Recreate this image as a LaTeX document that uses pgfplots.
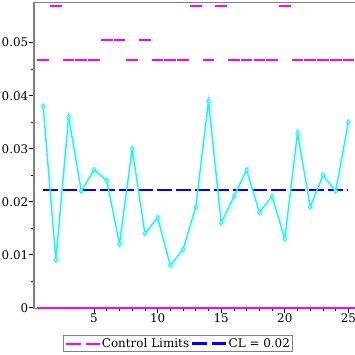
\documentclass[border=0pt]{standalone}
\usepackage{fontspec}
\setmainfont{DejaVu Serif}
\usepackage{pgfplots}
\pgfplotsset{compat=1.18}
\definecolor{axgray}{RGB}{128,128,128}
\definecolor{mag}{RGB}{255,0,255}
\definecolor{cy}{RGB}{0,255,255}
\definecolor{bl}{RGB}{0,0,255}
\begin{document}
\begin{tikzpicture}
\begin{axis}[
  at={(34bp,46.7bp)}, anchor=south west,
  scale only axis, width=322bp, height=305.6bp,
  xmin=0.28, xmax=25.6, ymin=-0.0001, ymax=0.05753,
  axis line style={axgray, line width=1.3bp},
  tick style={black, line width=0.6bp},
  tick align=outside, tick pos=left,
  xtick={5,10,15,20,25}, minor x tick num=4,
  ytick={0,0.01,0.02,0.03,0.04,0.05}, minor y tick num=1,
  major tick length=4.5bp, minor tick length=2.5bp,
  scaled y ticks=false,
  /pgf/number format/assume math mode=true,
  ticklabel style={font=\fontsize{12}{14}\selectfont},
  yticklabel style={/pgf/number format/fixed, /pgf/number format/precision=2, inner sep=1bp},
  xticklabel style={inner sep=1bp},
  unbounded coords=jump,
  legend columns=-1,
  legend style={at={(0.447,-0.1152)}, anchor=center, draw=axgray, line width=1.5bp,
    font=\fontsize{12}{14}\selectfont, inner sep=1.5bp,
    nodes={inner sep=1bp},
    /tikz/every even column/.append style={column sep=1bp}},
  legend image code/.code={\draw[#1, dash pattern=on 15bp off 5bp] (0bp,0bp) -- (34bp,0bp);},
]
% upper control limits (per sample)
\addplot[mag, line width=2bp] coordinates {
(0.54,0.0468)(1.46,0.0468)(1.5,nan)
(1.54,0.0570)(2.46,0.0570)(2.5,nan)
(2.54,0.0468)(3.46,0.0468)(3.5,nan)
(3.54,0.0468)(4.46,0.0468)(4.5,nan)
(4.54,0.0468)(5.46,0.0468)(5.5,nan)
(5.54,0.0505)(6.46,0.0505)(6.5,nan)
(6.54,0.0505)(7.46,0.0505)(7.5,nan)
(7.54,0.0468)(8.46,0.0468)(8.5,nan)
(8.54,0.0505)(9.46,0.0505)(9.5,nan)
(9.54,0.0468)(10.46,0.0468)(10.5,nan)
(10.54,0.0468)(11.46,0.0468)(11.5,nan)
(11.54,0.0468)(12.46,0.0468)(12.5,nan)
(12.54,0.0570)(13.46,0.0570)(13.5,nan)
(13.54,0.0468)(14.46,0.0468)(14.5,nan)
(14.54,0.0570)(15.46,0.0570)(15.5,nan)
(15.54,0.0468)(16.46,0.0468)(16.5,nan)
(16.54,0.0468)(17.46,0.0468)(17.5,nan)
(17.54,0.0468)(18.46,0.0468)(18.5,nan)
(18.54,0.0468)(19.46,0.0468)(19.5,nan)
(19.54,0.0570)(20.46,0.0570)(20.5,nan)
(20.54,0.0468)(21.46,0.0468)(21.5,nan)
(21.54,0.0468)(22.46,0.0468)(22.5,nan)
(22.54,0.0468)(23.46,0.0468)(23.5,nan)
(23.54,0.0468)(24.46,0.0468)(24.5,nan)
(24.54,0.0468)(25.46,0.0468)
};
\addlegendentry{Control Limits}
% center line
\addplot[bl, line width=2.5bp, dash pattern=on 15bp off 4bp] coordinates {(1,0.0222)(25,0.0222)};
\addlegendentry{CL = 0.02}
% lower control limit
\addplot[mag, line width=2bp, forget plot] coordinates {(0.5,0)(25.5,0)};
% proportions
\addplot[cy, line width=1.4bp, mark=diamond*, mark size=2.5bp,
  mark options={fill=cy!35!white, draw=cy, line width=0.8bp}, forget plot] coordinates {
(1,0.038)(2,0.009)(3,0.036)(4,0.022)(5,0.026)(6,0.024)(7,0.012)(8,0.030)
(9,0.014)(10,0.017)(11,0.008)(12,0.011)(13,0.019)(14,0.039)(15,0.016)
(16,0.021)(17,0.026)(18,0.018)(19,0.021)(20,0.013)(21,0.033)(22,0.019)
(23,0.025)(24,0.022)(25,0.035)
};
\end{axis}
\pgfresetboundingbox
\useasboundingbox (0,0) rectangle (355bp,355bp);
\end{tikzpicture}
\end{document}
